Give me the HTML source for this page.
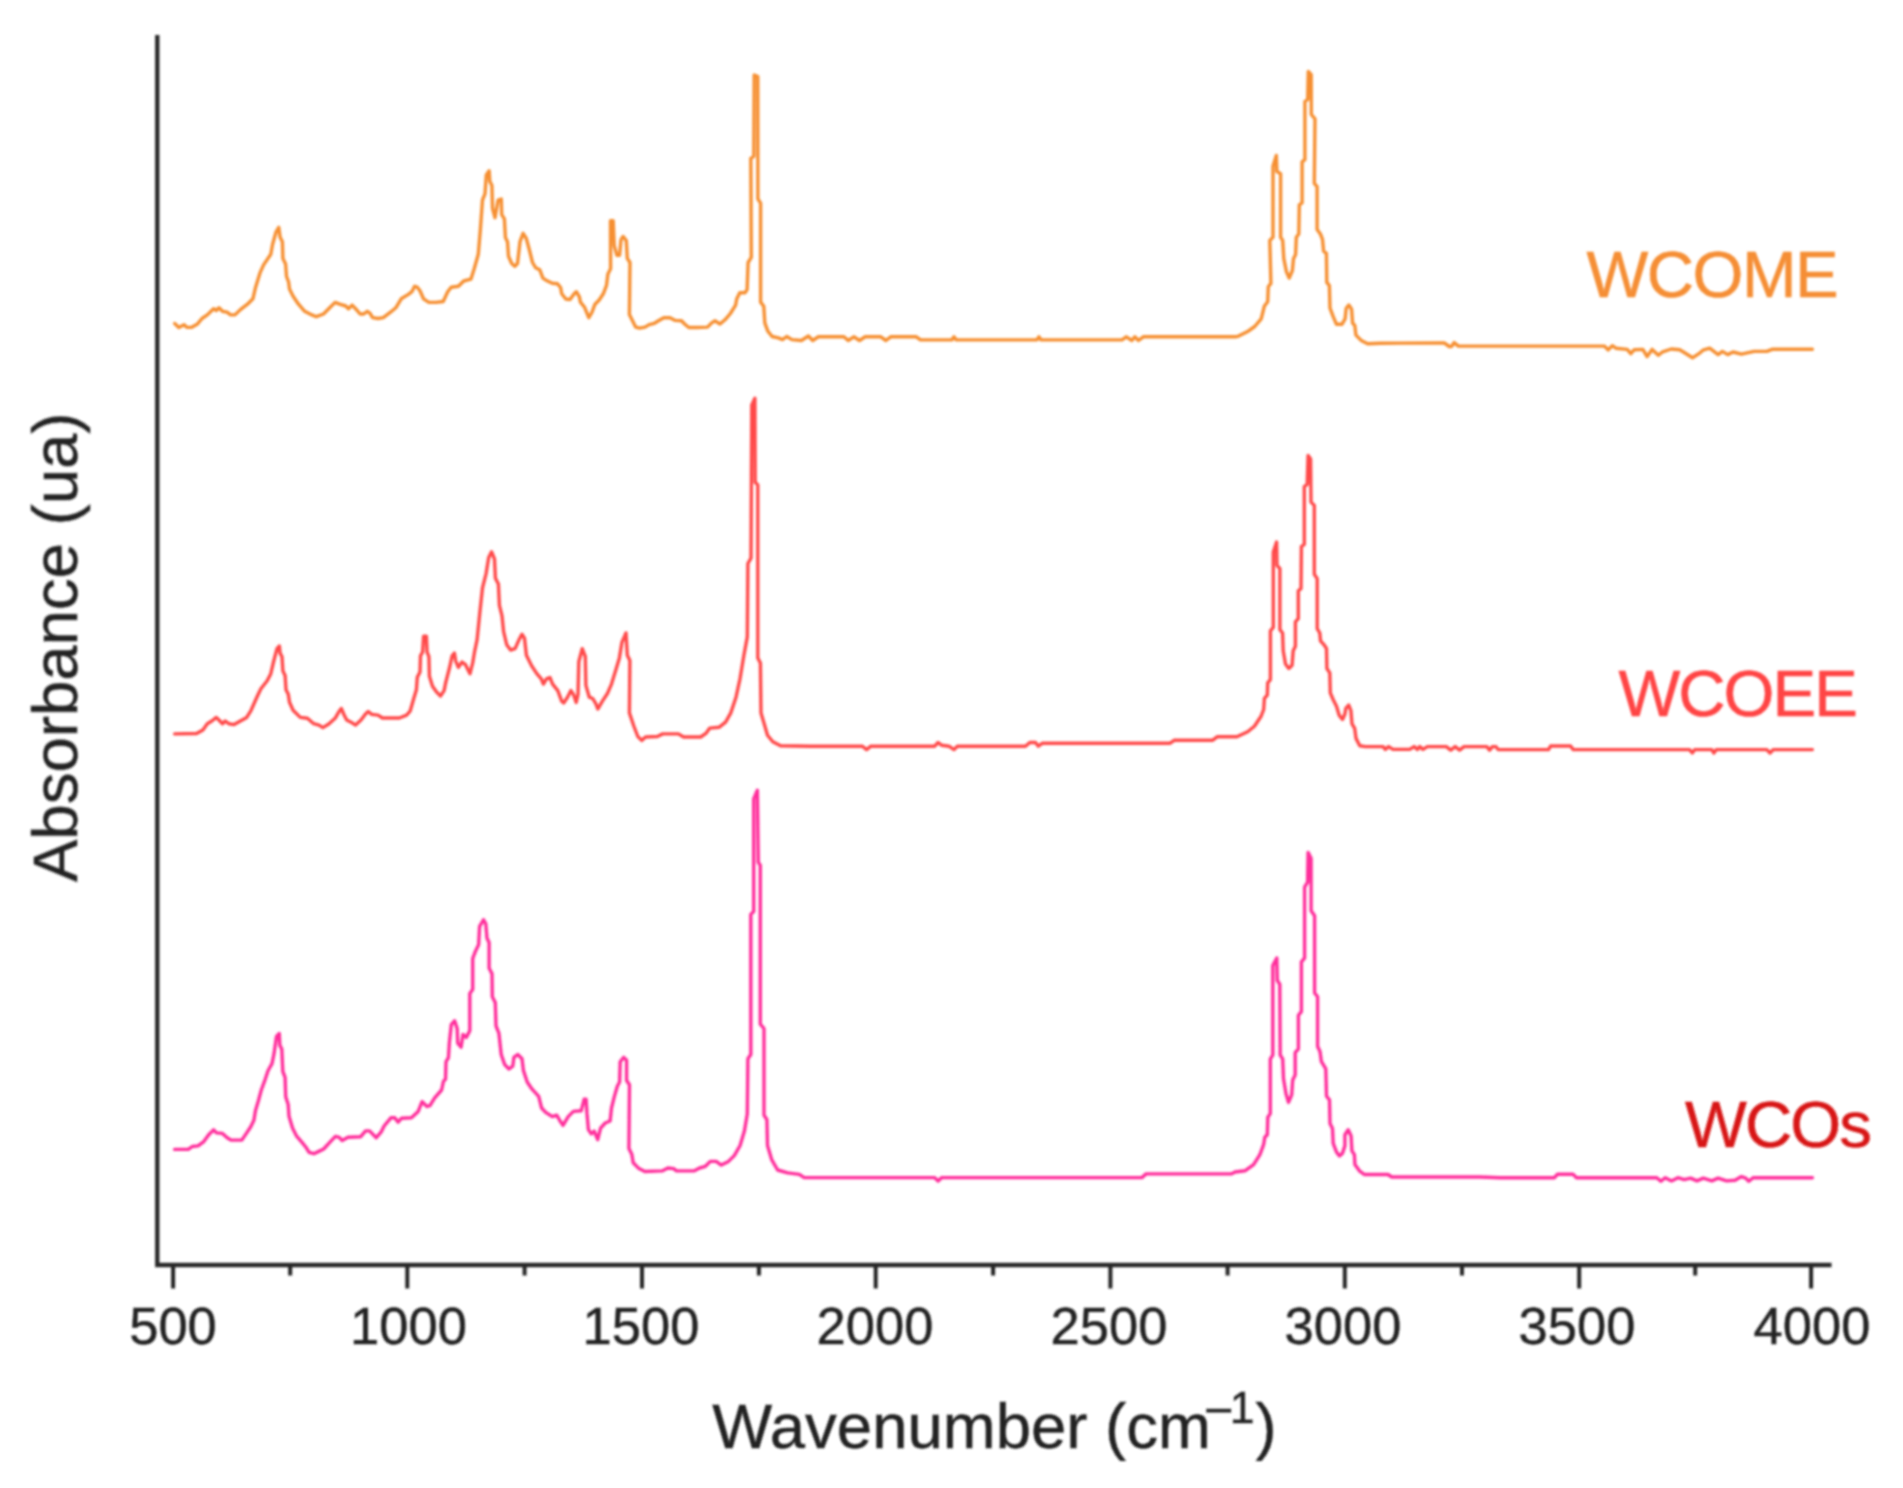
<!DOCTYPE html>
<html lang="en">
<head>
<meta charset="utf-8">
<title>FTIR spectra of WCOs, WCOEE and WCOME</title>
<style>
html,body{margin:0;padding:0;background:#ffffff;}
body{width:1903px;height:1488px;overflow:hidden;}
svg{display:block;}
text{font-family:"Liberation Sans", sans-serif;}
.tick{font-size:52.5px;fill:#222222;stroke:#222222;stroke-width:0.4;text-anchor:middle;}
.axl{font-size:63.5px;fill:#222222;stroke:#222222;stroke-width:0.4;text-anchor:middle;}
.lab{font-size:65.5px;}
.ax{stroke:#262626;stroke-width:4.3;fill:none;stroke-linecap:butt;}
.tk{stroke:#262626;stroke-width:4.0;fill:none;}
.cv{fill:none;stroke-width:3.4;stroke-linejoin:round;stroke-linecap:round;}
</style>
</head>
<body>
<svg width="1903" height="1488" viewBox="0 0 1903 1488">
<defs><filter id="soft" x="0" y="0" width="1903" height="1488" filterUnits="userSpaceOnUse"><feGaussianBlur stdDeviation="0.9"/></filter></defs>
<rect x="0" y="0" width="1903" height="1488" fill="#ffffff"/>
<g filter="url(#soft)">
<polyline class="cv" stroke="#f68f30" points="174.7,323.5 178.8,327.4 184.1,324.7 186.8,327.4 191.3,327.4 197.5,323.9 202.0,318.5 207.3,314.9 213.6,308.7 216.3,310.5 219.0,307.8 222.5,311.3 227.0,312.2 230.6,314.9 235.0,314.9 240.4,309.6 247.5,304.2 252.9,298.8 255.6,287.2 260.0,272.9 263.6,264.9 270.8,254.2 272.6,244.3 276.1,231.8 278.8,227.4 280.1,237.2 282.4,241.7 282.9,258.6 285.6,264.0 286.5,276.5 288.6,281.9 289.5,289.0 293.1,296.2 298.5,304.2 304.7,311.3 311.9,314.9 316.3,316.7 323.5,314.0 329.7,307.8 335.1,302.4 339.6,304.2 345.8,306.0 348.5,308.7 352.1,305.1 355.6,308.7 360.1,314.0 363.7,314.0 367.3,311.3 369.9,313.1 372.6,317.6 378.0,318.5 383.3,317.6 390.5,312.2 395.8,307.8 401.2,298.8 408.4,294.4 411.9,291.7 414.6,286.3 417.3,287.2 420.0,290.8 423.5,298.8 428.9,302.4 436.0,302.4 443.2,301.5 447.7,291.7 451.2,287.2 458.4,286.3 463.7,281.0 470.9,279.2 474.2,268.8 478.3,254.2 480.4,229.2 482.5,200.0 485.0,193.8 486.3,175.0 489.2,170.8 489.8,181.3 491.9,185.4 492.5,208.3 495.0,217.7 498.1,200.0 501.3,199.0 501.7,214.6 504.4,218.8 505.4,237.5 507.5,241.7 508.5,256.3 511.7,263.5 514.8,266.3 517.5,263.5 520.0,241.7 523.1,233.3 526.3,238.5 529.4,250.0 532.5,262.5 535.6,267.7 539.8,269.8 542.9,278.1 546.0,280.2 552.3,283.3 557.5,283.8 560.6,287.5 561.7,293.8 565.8,299.0 570.0,299.6 574.2,293.8 576.3,291.7 579.4,296.9 580.4,302.1 584.6,307.3 588.8,317.7 591.9,312.5 595.0,304.2 599.2,300.0 603.3,293.8 606.5,285.4 607.9,274.0 610.6,268.8 610.5,220.8 613.2,220.8 614.2,245.8 616.9,255.2 619.6,255.2 621.0,239.6 623.1,236.5 626.3,240.6 627.3,258.3 630.0,262.5 629.4,314.6 632.5,320.8 635.6,327.1 639.8,328.1 645.0,327.1 649.2,324.6 654.4,323.3 658.5,320.8 663.8,317.7 670.0,317.7 675.2,320.4 681.5,320.8 684.6,324.0 688.8,327.5 697.1,327.5 707.5,327.1 711.7,322.9 714.8,320.8 720.0,324.0 725.0,319.8 730.4,313.5 735.6,305.2 736.7,299.0 739.8,292.7 745.0,292.7 747.1,289.6 748.1,262.5 751.3,257.3 750.8,158.3 753.8,156.3 754.2,75.0 757.8,76.6 757.9,199.0 760.6,203.1 760.6,302.1 763.8,306.3 764.8,322.9 767.9,331.3 772.1,336.5 778.3,337.9 782.5,339.6 786.7,336.5 791.9,339.6 801.4,340.5 808.4,336.0 812.7,340.5 818.4,336.8 843.9,336.8 848.2,340.5 853.8,336.8 859.5,340.5 865.2,336.8 880.8,336.8 885.9,340.5 890.7,336.8 916.3,336.8 920.5,339.9 951.8,339.9 954.0,336.8 956.3,339.9 1036.9,339.9 1038.9,336.8 1041.1,339.9 1122.0,339.9 1126.3,336.8 1131.9,340.5 1134.8,336.8 1138.5,340.5 1143.3,336.8 1235.5,336.8 1238.6,336.1 1247.2,331.8 1254.7,326.5 1261.2,318.9 1264.4,306.0 1267.7,301.7 1268.3,286.7 1270.9,283.4 1269.8,240.4 1273.0,237.2 1273.0,166.2 1276.3,155.4 1276.9,171.6 1280.6,173.7 1280.6,237.2 1282.7,240.4 1283.8,258.7 1286.4,271.6 1289.2,278.1 1292.4,270.5 1293.5,258.7 1295.6,254.4 1296.3,237.2 1298.8,234.0 1299.3,204.9 1302.1,202.8 1302.1,161.9 1304.9,159.7 1304.9,101.6 1307.7,99.5 1308.3,71.5 1311.2,74.7 1311.3,114.5 1315.0,118.8 1314.3,183.4 1317.1,186.6 1317.1,229.6 1320.4,234.0 1322.5,239.3 1323.6,251.2 1326.4,253.3 1326.8,282.4 1329.4,285.6 1330.0,308.2 1333.3,316.8 1336.5,324.3 1341.9,324.3 1345.1,318.9 1346.2,308.2 1348.8,305.0 1351.6,309.3 1352.6,323.2 1354.8,325.4 1355.9,335.1 1361.2,340.4 1367.7,343.7 1380.6,343.2 1444.2,342.9 1449.2,346.5 1451.5,346.5 1454.1,342.6 1458.4,346.1 1500.0,346.1 1604.5,346.1 1608.1,349.9 1612.3,345.7 1615.9,348.2 1627.2,349.4 1630.8,353.6 1634.3,349.7 1642.8,349.4 1647.1,356.5 1652.1,349.4 1658.4,355.3 1662.7,351.8 1671.2,349.0 1679.7,349.7 1685.4,353.2 1692.5,357.8 1700.0,352.8 1703.0,350.2 1709.7,348.2 1718.1,354.6 1722.4,351.4 1727.7,354.6 1733.0,352.0 1741.4,354.2 1754.1,351.4 1766.8,351.4 1772.1,349.3 1812.4,349.3"/>
<polyline class="cv" stroke="#ff4a4a" points="174.7,733.9 196.6,733.5 202.9,729.9 207.3,723.7 211.8,721.0 216.3,717.4 219.9,721.0 222.5,723.7 225.2,721.0 228.8,723.7 234.1,724.6 240.4,721.0 246.7,717.4 251.1,710.3 257.4,696.0 260.9,688.8 267.2,680.8 270.8,673.7 273.5,662.0 277.0,648.6 279.4,646.0 280.1,653.1 282.0,656.7 282.9,671.0 285.1,675.4 286.0,689.7 288.3,694.2 289.5,702.2 293.1,710.3 300.3,717.4 307.4,718.3 313.7,723.7 319.0,725.1 322.9,727.6 328.8,724.0 335.1,718.3 338.7,712.1 341.3,708.5 344.0,714.7 346.7,720.1 352.1,722.8 355.6,725.1 361.0,720.1 365.5,713.9 368.2,711.5 371.7,714.4 378.0,715.1 382.4,718.0 399.4,718.0 406.6,715.1 410.1,711.2 413.7,698.7 416.4,689.7 417.3,677.2 420.0,671.9 420.5,655.8 422.6,652.2 423.6,636.1 426.4,636.1 427.1,652.2 428.9,656.7 429.4,676.3 432.5,686.2 436.9,692.4 440.5,696.0 444.1,690.6 445.9,681.7 449.4,668.3 452.1,655.8 454.4,653.1 455.7,661.1 458.4,667.4 462.0,662.0 465.5,664.7 470.0,673.7 472.7,662.9 474.5,652.2 477.1,639.7 479.8,612.9 482.5,587.9 486.1,573.6 488.7,557.5 491.6,551.9 494.5,559.0 495.4,578.2 498.4,584.0 499.4,605.4 502.0,615.9 503.6,631.6 506.7,644.7 510.6,650.0 515.1,648.7 518.5,640.8 521.9,634.3 524.5,638.2 526.4,655.2 531.6,665.7 536.8,673.6 541.3,678.8 543.4,684.1 546.5,678.8 549.9,677.5 552.6,684.1 557.8,690.6 561.7,701.1 563.8,702.9 567.5,697.2 570.9,690.6 573.5,694.5 576.2,702.4 578.0,694.5 578.8,661.8 582.2,648.7 585.3,656.5 585.9,685.4 589.3,697.2 592.7,698.5 595.8,703.7 597.9,709.0 602.4,701.1 607.6,693.2 611.5,684.1 615.5,671.0 619.4,657.9 622.0,642.1 626.0,632.9 627.3,655.2 629.9,660.5 629.4,712.9 633.8,726.0 637.8,736.5 641.7,740.4 645.6,737.0 657.4,736.5 662.7,733.9 678.4,733.9 683.6,737.0 700.7,737.0 705.9,733.4 709.8,728.1 719.0,727.3 725.6,722.1 730.8,712.9 736.0,697.2 740.0,678.8 743.9,655.2 747.3,636.9 747.9,563.5 751.0,558.2 751.8,404.9 754.9,398.3 755.2,482.2 757.8,484.9 757.8,657.9 760.4,663.1 761.0,712.9 764.1,723.4 767.5,735.2 772.8,741.7 780.6,745.7 810.0,746.2 862.4,746.2 866.6,749.6 870.9,746.2 934.7,746.2 938.1,742.5 941.8,745.3 948.9,746.2 954.0,749.6 957.4,746.2 1025.5,746.2 1029.8,742.5 1035.5,742.5 1038.3,746.2 1042.6,743.2 1170.2,743.2 1174.5,740.2 1212.8,740.2 1217.1,736.8 1236.9,736.8 1247.7,731.7 1254.4,726.2 1261.1,716.2 1263.7,709.5 1264.4,698.4 1267.3,695.1 1267.7,682.9 1270.4,679.6 1270.4,630.8 1273.3,627.4 1273.3,552.0 1276.6,542.0 1277.0,565.3 1279.9,568.7 1279.9,629.7 1282.6,633.0 1283.2,650.7 1285.5,664.0 1288.8,668.5 1292.1,665.2 1293.2,650.7 1295.4,646.3 1295.4,621.9 1298.3,618.6 1298.3,590.8 1301.0,588.6 1301.4,546.5 1304.3,544.3 1304.3,486.6 1307.2,484.4 1308.1,455.5 1310.6,458.9 1311.0,502.1 1314.3,505.4 1314.3,574.2 1317.2,578.6 1317.2,628.6 1319.8,633.0 1320.5,640.8 1324.3,645.2 1326.5,648.5 1326.9,668.5 1329.8,672.9 1330.3,692.9 1333.1,699.5 1336.5,706.2 1339.1,715.1 1342.5,719.5 1344.9,714.0 1345.8,708.4 1348.7,705.1 1350.9,710.6 1352.0,723.9 1354.7,728.4 1356.0,738.4 1359.8,745.7 1365.3,746.6 1383.1,746.6 1385.3,749.4 1388.6,746.6 1393.0,749.4 1409.7,749.4 1414.1,746.6 1417.4,749.4 1419.7,746.6 1423.0,749.4 1427.4,746.6 1446.3,746.6 1450.7,750.1 1455.2,746.6 1459.6,750.1 1464.0,746.6 1486.8,746.6 1489.6,750.1 1492.4,746.6 1496.0,746.6 1498.1,749.6 1548.5,749.6 1550.6,746.0 1570.5,746.0 1573.3,749.6 1689.5,749.6 1692.3,753.0 1694.8,749.6 1711.8,749.6 1713.9,753.0 1716.4,749.6 1766.8,749.6 1770.0,753.0 1773.2,749.6 1812.4,749.6"/>
<polyline class="cv" stroke="#ff2d9b" points="174.6,1149.4 188.3,1149.4 192.2,1146.5 198.0,1145.9 203.8,1141.6 208.7,1134.8 213.6,1129.9 216.5,1132.9 222.4,1133.4 227.2,1137.7 231.1,1140.1 241.8,1140.1 246.7,1132.9 250.6,1127.0 253.9,1120.2 255.5,1110.4 258.4,1100.7 261.3,1090.0 265.2,1079.3 268.1,1070.5 272.0,1063.7 274.0,1053.9 276.5,1036.4 279.3,1033.5 279.8,1045.2 281.8,1049.1 282.8,1071.5 285.1,1077.3 285.7,1096.8 288.2,1104.6 289.0,1116.3 292.5,1128.0 296.4,1135.8 302.2,1142.6 306.1,1147.5 309.1,1152.3 313.9,1153.7 318.8,1151.4 323.7,1149.0 329.5,1142.6 335.4,1136.4 339.3,1137.3 342.2,1140.6 348.0,1137.3 360.7,1136.7 365.6,1130.9 369.5,1130.9 376.3,1137.7 381.2,1131.9 384.1,1126.0 390.9,1117.8 394.8,1117.8 398.1,1122.1 401.6,1118.2 411.4,1117.8 418.2,1111.4 422.1,1101.7 427.0,1106.5 429.9,1105.6 434.7,1097.8 441.6,1090.0 443.5,1081.2 445.5,1079.3 446.0,1061.7 448.4,1057.8 449.4,1042.2 451.3,1024.7 454.6,1020.8 457.2,1028.6 457.7,1043.2 461.1,1047.1 463.0,1034.5 466.3,1037.4 469.8,1030.6 469.8,993.5 472.7,989.6 472.7,958.5 475.7,950.7 478.6,944.8 479.6,926.3 483.5,919.8 485.8,923.8 487.0,938.3 489.1,942.6 489.1,968.3 492.0,973.6 492.3,996.8 495.3,1002.6 496.0,1026.0 498.9,1033.1 501.2,1054.5 504.7,1064.6 509.0,1069.0 512.8,1066.1 513.9,1057.4 517.7,1054.5 522.0,1058.8 523.4,1070.4 527.2,1082.0 532.1,1089.2 538.7,1096.4 541.6,1108.0 545.7,1112.3 552.3,1116.6 556.7,1115.2 560.1,1121.0 563.0,1125.3 568.2,1116.6 573.4,1111.4 581.2,1110.8 584.1,1099.3 586.1,1099.3 587.0,1113.7 588.4,1129.6 591.3,1133.9 594.2,1131.1 597.7,1139.7 600.6,1128.2 605.2,1123.0 610.1,1121.0 611.5,1108.0 614.4,1096.4 617.3,1086.3 619.6,1082.0 620.2,1061.7 623.7,1057.4 626.6,1060.3 626.6,1080.5 629.5,1084.8 628.9,1148.4 631.8,1154.2 633.2,1162.8 639.0,1168.6 644.8,1171.5 662.1,1170.9 667.9,1168.0 673.6,1168.6 676.5,1170.9 693.9,1170.9 699.6,1168.0 705.4,1166.3 710.3,1161.4 716.1,1161.4 721.3,1165.1 728.5,1161.4 734.3,1155.6 740.1,1145.5 744.4,1131.1 747.3,1113.7 747.9,1058.8 750.8,1054.5 750.8,914.4 753.7,911.5 753.7,798.9 757.4,790.2 758.3,862.4 760.3,865.3 760.3,1024.2 764.0,1028.5 764.0,1115.2 766.9,1119.5 767.5,1145.5 771.8,1159.9 777.6,1170.0 787.7,1172.9 799.3,1174.4 804.2,1177.6 934.7,1177.6 938.1,1181.0 941.8,1177.6 1141.9,1177.6 1146.1,1173.9 1231.3,1173.9 1235.0,1172.0 1244.9,1170.8 1253.6,1164.6 1259.9,1154.6 1263.6,1144.7 1264.8,1137.2 1267.3,1134.7 1267.8,1117.3 1270.3,1113.6 1270.3,1058.9 1272.8,1055.1 1272.8,965.6 1276.8,958.1 1277.3,980.5 1279.8,984.2 1280.2,1055.1 1282.7,1058.9 1283.5,1078.8 1286.0,1093.7 1288.5,1102.4 1291.7,1094.9 1292.7,1080.0 1295.2,1075.0 1295.2,1052.6 1298.4,1048.9 1298.4,1015.3 1301.4,1011.6 1301.4,961.8 1304.6,958.1 1304.6,887.2 1307.6,882.2 1308.1,852.4 1311.1,858.6 1311.1,910.8 1314.6,915.8 1314.6,992.9 1317.6,996.7 1317.6,1046.4 1320.0,1051.4 1321.3,1061.3 1325.8,1068.8 1326.5,1096.2 1329.5,1099.9 1330.0,1123.5 1332.5,1128.5 1333.2,1143.4 1336.5,1152.1 1339.5,1155.9 1342.4,1153.4 1344.9,1145.9 1344.9,1134.7 1348.2,1129.8 1351.1,1136.0 1351.9,1150.9 1354.4,1154.6 1354.9,1164.6 1359.4,1170.8 1364.3,1174.5 1388.0,1174.5 1391.7,1177.0 1480.0,1177.0 1500.0,1177.7 1554.5,1177.7 1557.5,1174.2 1573.0,1174.2 1576.3,1177.7 1656.7,1177.7 1660.9,1181.3 1665.2,1177.7 1671.5,1180.9 1677.9,1177.7 1684.2,1179.6 1690.6,1178.1 1697.0,1180.9 1703.3,1178.1 1711.8,1180.9 1718.1,1178.1 1726.6,1180.9 1735.1,1180.2 1741.4,1176.6 1745.7,1178.1 1748.8,1181.3 1753.1,1177.7 1812.4,1177.7"/>
<path class="ax" d="M157.3,35.0 V1265.0 H1831.5"/>
<line class="tk" x1="173.1" y1="1265.0" x2="173.1" y2="1288.5"/>
<line class="tk" x1="407.3" y1="1265.0" x2="407.3" y2="1288.5"/>
<line class="tk" x1="642.0" y1="1265.0" x2="642.0" y2="1288.5"/>
<line class="tk" x1="875.7" y1="1265.0" x2="875.7" y2="1288.5"/>
<line class="tk" x1="1110.4" y1="1265.0" x2="1110.4" y2="1288.5"/>
<line class="tk" x1="1344.8" y1="1265.0" x2="1344.8" y2="1288.5"/>
<line class="tk" x1="1579.2" y1="1265.0" x2="1579.2" y2="1288.5"/>
<line class="tk" x1="1811.1" y1="1265.0" x2="1811.1" y2="1288.5"/>
<line class="tk" x1="290.2" y1="1265.0" x2="290.2" y2="1275.5"/>
<line class="tk" x1="524.6" y1="1265.0" x2="524.6" y2="1275.5"/>
<line class="tk" x1="758.9" y1="1265.0" x2="758.9" y2="1275.5"/>
<line class="tk" x1="993.1" y1="1265.0" x2="993.1" y2="1275.5"/>
<line class="tk" x1="1227.6" y1="1265.0" x2="1227.6" y2="1275.5"/>
<line class="tk" x1="1462.0" y1="1265.0" x2="1462.0" y2="1275.5"/>
<line class="tk" x1="1695.2" y1="1265.0" x2="1695.2" y2="1275.5"/>
<text class="tick" x="173.0" y="1344">500</text>
<text class="tick" x="408.5" y="1344">1000</text>
<text class="tick" x="641.0" y="1344">1500</text>
<text class="tick" x="875.0" y="1344">2000</text>
<text class="tick" x="1109.0" y="1344">2500</text>
<text class="tick" x="1343.0" y="1344">3000</text>
<text class="tick" x="1577.0" y="1344">3500</text>
<text class="tick" x="1812.0" y="1344">4000</text>
<text class="axl" style="text-anchor:start" x="712.2" y="1447.5">Wavenumber (cm<tspan font-size="46" x="1204.2" y="1426.3" textLength="29.4" lengthAdjust="spacingAndGlyphs">−</tspan><tspan font-size="44.5" x="1229.7" y="1423.2">1</tspan><tspan x="1255.6" y="1447.5">)</tspan></text>
<text class="axl" transform="translate(77,647.2) rotate(-90)" x="0" y="0">Absorbance (ua)</text>
<text class="lab" x="1586.4" y="297.2" letter-spacing="-1.5" fill="#f58e34" stroke="#f58e34" stroke-width="0.5">WCOME</text>
<text class="lab" x="1618.5" y="716.2" letter-spacing="-2" fill="#ff4545" stroke="#ff4545" stroke-width="0.5">WCOEE</text>
<text class="lab" x="1685" y="1147.2" letter-spacing="-1.9" fill="#d81616" stroke="#d81616" stroke-width="0.5">WCOs</text>
</g>
</svg>
</body>
</html>
